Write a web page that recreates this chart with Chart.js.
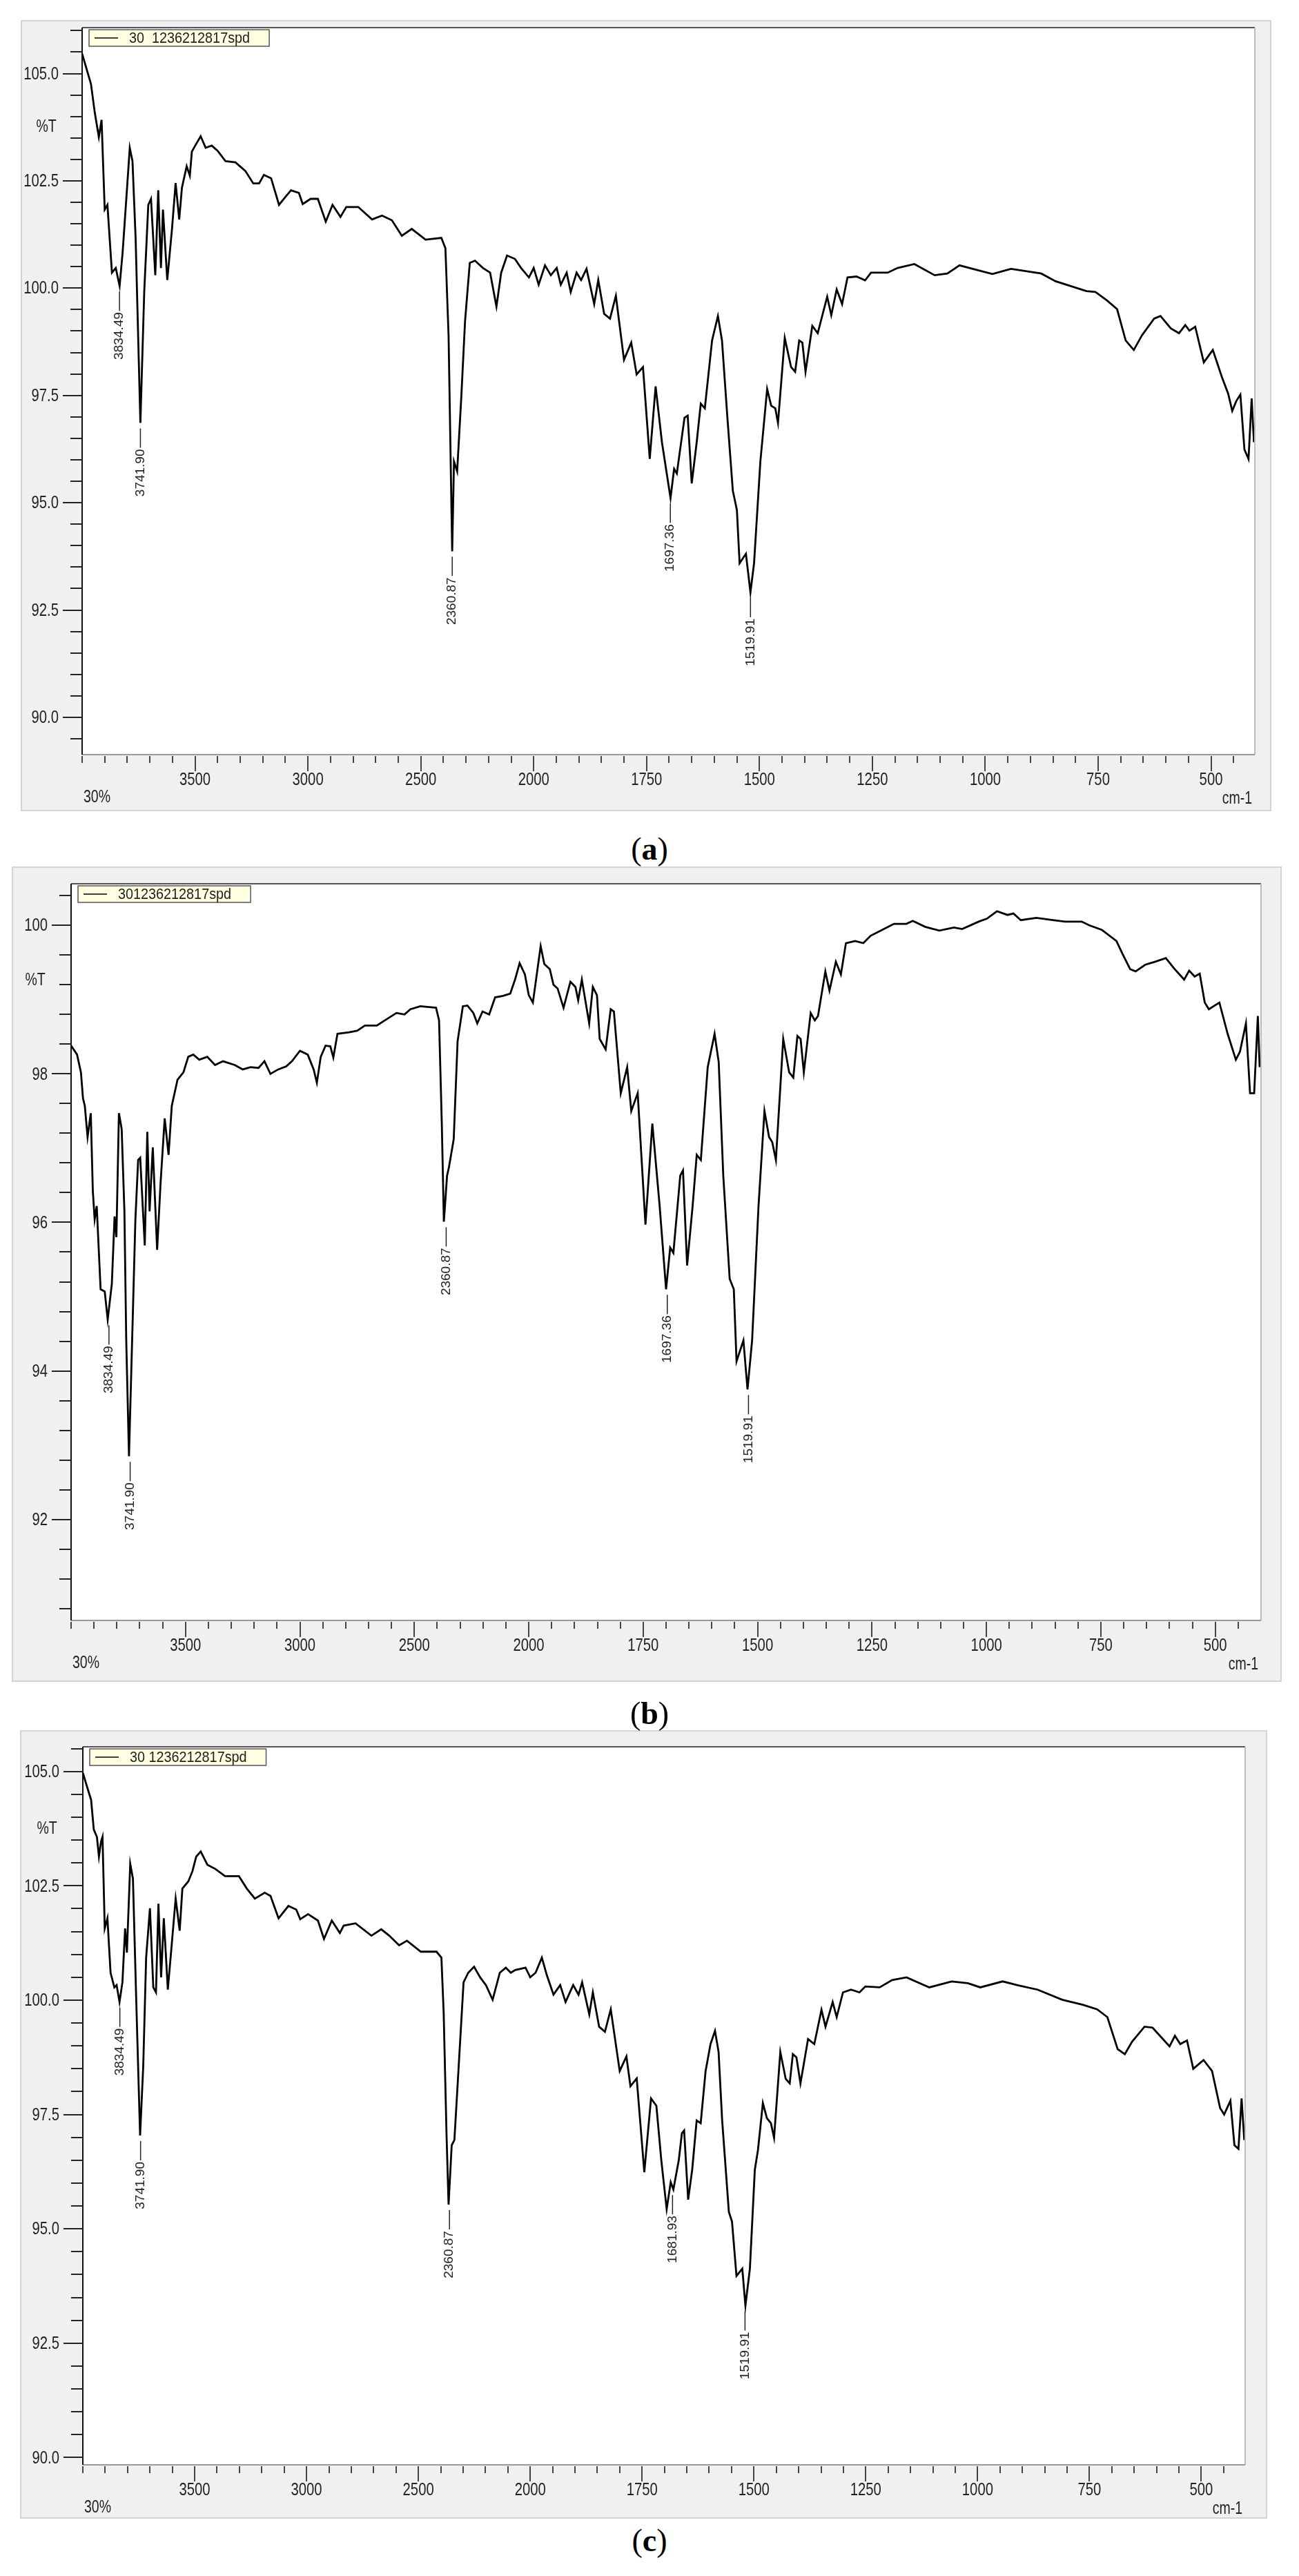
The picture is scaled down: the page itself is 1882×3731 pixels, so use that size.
<!DOCTYPE html>
<html><head><meta charset="utf-8">
<script src="https://cdn.jsdelivr.net/npm/chart.js@4.4.1/dist/chart.umd.min.js"></script>
<style>
html,body{margin:0;padding:0;background:#fff;width:1882px;height:3731px;overflow:hidden;position:relative}
canvas{position:absolute}
.cap{position:absolute;width:1882px;text-align:center;font-family:"Liberation Serif","DejaVu Serif",serif;font-size:46px;color:#000;line-height:1}
.cap b{font-weight:bold}
</style></head><body>
<canvas id="ca"></canvas><canvas id="cb"></canvas><canvas id="cc"></canvas>
<div class="cap" style="top:1207px">(<b>a</b>)</div>
<div class="cap" style="top:2459px">(<b>b</b>)</div>
<div class="cap" style="top:3657px">(<b>c</b>)</div>
<script>
// ---------------- data ----------------
const aWn=[4000,3961,3944,3926,3914,3900,3888,3868,3851,3834,3821,3812,3789,3777,3763,3742,3725,3707,3695,3676,3663,3651,3642,3623,3602,3586,3570,3558,3537,3523,3514,3496,3475,3453,3426,3400,3365,3321,3277,3242,3216,3195,3163,3128,3102,3075,3040,3023,2988,2956,2921,2891,2856,2830,2777,2716,2672,2628,2584,2540,2479,2409,2391,2377,2361,2353,2339,2321,2304,2283,2260,2225,2193,2165,2144,2118,2083,2056,2021,2000,1989,1975,1962,1949,1940,1927,1918,1905,1895,1883,1866,1857,1844,1831,1818,1800,1784,1772,1758,1743,1730,1716,1697,1689,1683,1666,1659,1650,1639,1630,1621,1605,1592,1583,1571,1559,1550,1544,1530,1520,1512,1498,1483,1474,1465,1459,1444,1430,1421,1412,1405,1398,1383,1371,1350,1341,1329,1317,1305,1285,1266,1253,1216,1194,1157,1112,1084,1057,1025,984,943,876,844,776,756,730,708,689,671,653,626,612,589,571,557,548,535,516,496,476,462,453,444,435,426,417,410,405];
const aT=[105.46,104.76,104.09,103.52,103.92,101.83,101.94,100.36,100.47,100.05,100.81,101.49,103.27,102.96,101.15,96.86,99.91,101.94,102.08,100.30,102.28,100.47,101.83,100.19,101.38,102.45,101.60,102.34,102.84,102.62,103.18,103.35,103.54,103.27,103.32,103.20,102.96,102.93,102.73,102.44,102.44,102.64,102.56,101.94,102.11,102.28,102.22,101.96,102.08,102.08,101.55,101.94,101.66,101.89,101.89,101.60,101.69,101.58,101.22,101.38,101.13,101.17,100.93,98.89,93.87,95.96,95.73,97.43,99.23,100.59,100.64,100.47,100.36,99.57,100.36,100.76,100.68,100.47,100.25,100.47,100.08,100.53,100.30,100.47,100.08,100.36,99.91,100.36,100.19,100.45,99.63,100.19,99.40,99.29,99.82,98.33,98.73,97.99,98.16,96.02,97.71,96.41,95.11,95.79,95.68,96.98,97.03,95.45,96.41,97.31,97.20,98.78,99.35,98.78,96.98,95.28,94.83,93.59,93.81,92.91,93.59,95.96,97.65,97.26,97.20,96.86,98.84,98.16,98.05,98.78,98.73,98.05,99.12,98.95,99.80,99.37,99.97,99.63,100.25,100.27,100.18,100.36,100.36,100.47,100.56,100.30,100.34,100.53,100.44,100.33,100.45,100.34,100.16,99.93,99.91,99.71,99.51,98.78,98.56,98.90,99.29,99.35,99.06,98.95,99.14,99.01,99.10,98.27,98.56,97.93,97.54,97.14,97.37,97.52,96.24,96.02,97.43,96.41];
const bWn=[4000,3974,3957,3948,3940,3928,3914,3905,3897,3888,3871,3853,3840,3822,3810,3802,3791,3779,3767,3759,3747,3729,3719,3707,3698,3678,3667,3657,3643,3624,3609,3591,3574,3560,3535,3509,3488,3466,3440,3405,3371,3336,3285,3250,3216,3181,3155,3129,3095,3060,3035,3000,2966,2940,2926,2909,2888,2867,2854,2836,2785,2750,2716,2664,2629,2578,2543,2517,2474,2405,2392,2380,2371,2357,2349,2328,2311,2288,2268,2242,2225,2202,2173,2147,2112,2081,2060,2040,2017,2000,1991,1974,1966,1954,1946,1937,1924,1909,1898,1892,1884,1868,1860,1851,1845,1832,1821,1814,1799,1785,1776,1762,1745,1730,1714,1700,1691,1684,1669,1663,1654,1642,1633,1624,1609,1594,1585,1575,1561,1552,1546,1531,1522,1512,1498,1485,1475,1468,1460,1444,1431,1422,1413,1406,1399,1384,1375,1368,1352,1343,1329,1318,1307,1287,1269,1253,1224,1202,1175,1161,1134,1103,1071,1053,1017,999,977,954,941,925,891,855,828,792,775,748,716,703,686,674,653,631,608,590,568,557,545,534,523,514,491,473,455,446,433,424,415,407,403];
const bT=[98.38,98.26,98.02,97.67,97.57,97.15,97.47,96.42,96.04,96.22,95.10,95.07,94.69,95.17,96.08,95.80,97.47,97.26,96.15,94.41,92.85,94.90,96.04,96.84,96.87,95.69,97.22,96.15,97.01,95.63,96.53,97.40,96.91,97.57,97.92,98.02,98.23,98.26,98.19,98.23,98.12,98.17,98.12,98.06,98.09,98.08,98.17,98.00,98.06,98.10,98.17,98.31,98.26,98.06,97.88,98.23,98.38,98.37,98.22,98.54,98.56,98.58,98.65,98.65,98.72,98.82,98.80,98.87,98.91,98.89,98.72,97.33,96.01,96.63,96.74,97.12,98.44,98.91,98.92,98.82,98.68,98.84,98.80,99.03,99.05,99.08,99.27,99.49,99.34,99.06,98.96,99.72,99.48,99.41,99.20,99.15,98.89,99.24,99.17,98.99,99.27,98.68,99.17,99.06,98.47,98.33,98.87,98.84,97.74,98.09,97.50,97.74,95.97,97.33,96.22,95.10,95.66,95.59,96.63,96.70,95.42,96.22,96.91,96.84,98.09,98.54,98.16,96.63,95.24,95.10,94.13,94.41,93.75,94.41,96.22,97.50,97.15,97.08,96.84,98.47,98.02,97.95,98.51,98.47,98.02,98.82,98.72,98.78,99.38,99.12,99.51,99.34,99.76,99.79,99.76,99.86,99.95,100.02,100.02,100.06,99.98,99.93,99.97,99.95,100.05,100.09,100.19,100.14,100.16,100.07,100.10,100.07,100.05,100.05,100.00,99.94,99.79,99.62,99.41,99.38,99.47,99.51,99.56,99.42,99.27,99.39,99.31,99.35,98.96,98.87,98.96,98.54,98.19,98.30,98.68,97.74,97.74,98.78,98.09];
const cWn=[4000,3977,3963,3951,3937,3928,3919,3912,3902,3890,3876,3859,3849,3836,3823,3811,3803,3788,3776,3761,3744,3730,3717,3700,3685,3673,3662,3650,3638,3620,3602,3585,3567,3555,3528,3510,3493,3473,3443,3408,3364,3302,3267,3231,3187,3161,3125,3081,3046,3028,2993,2949,2922,2887,2851,2834,2781,2710,2666,2630,2586,2551,2489,2419,2397,2387,2374,2365,2351,2339,2321,2298,2277,2251,2224,2198,2168,2136,2109,2087,2067,2021,2000,1988,1974,1963,1948,1933,1921,1904,1892,1884,1868,1860,1846,1833,1820,1800,1785,1776,1762,1745,1730,1718,1707,1695,1686,1680,1668,1661,1656,1647,1638,1628,1619,1608,1597,1587,1579,1571,1556,1549,1539,1526,1519,1509,1498,1491,1480,1471,1462,1455,1441,1429,1420,1413,1405,1396,1379,1365,1349,1340,1324,1315,1301,1283,1264,1251,1219,1191,1159,1108,1058,1022,994,944,912,866,811,765,733,710,687,671,655,627,609,586,571,559,547,532,518,495,476,458,449,435,426,417,410,404];
const cT=[104.97,104.60,104.38,103.73,103.57,103.14,103.46,103.57,101.57,101.79,100.60,100.28,100.33,99.96,100.39,101.57,101.04,102.98,102.66,99.96,97.04,98.55,100.93,102.01,100.28,100.17,102.11,100.50,101.79,100.23,101.25,102.22,101.52,102.44,102.60,102.82,103.14,103.25,102.96,102.87,102.71,102.71,102.44,102.22,102.35,102.28,101.79,102.06,101.98,101.77,101.88,101.74,101.34,101.74,101.47,101.63,101.68,101.41,101.55,101.41,101.20,101.30,101.06,101.06,100.93,99.74,97.04,95.53,96.83,96.94,98.45,100.39,100.60,100.73,100.50,100.33,100.01,100.60,100.71,100.60,100.66,100.71,100.50,100.60,100.93,100.55,100.12,100.33,99.96,100.33,100.12,100.39,99.69,100.17,99.42,99.31,99.80,98.45,98.77,98.12,98.29,96.24,97.85,97.69,96.50,95.43,96.02,95.86,96.50,97.09,97.15,95.64,96.29,97.37,97.31,98.45,99.04,99.33,98.87,97.37,95.37,95.16,93.97,94.13,93.32,94.13,96.29,96.72,97.75,97.42,97.31,96.99,98.87,98.28,98.18,98.82,98.75,98.18,99.15,99.04,99.79,99.42,99.96,99.63,100.17,100.23,100.17,100.30,100.28,100.44,100.50,100.28,100.41,100.37,100.28,100.41,100.33,100.23,100.01,99.90,99.80,99.63,98.93,98.82,99.09,99.42,99.40,99.15,98.99,99.22,99.04,99.12,98.50,98.69,98.45,97.64,97.50,97.80,96.83,96.75,97.85,96.94];
const aPeakWn=[3834.49,3741.90,2360.87,1697.36,1519.91];
const aPeakT=[100.05,96.86,93.87,95.11,92.91];
const bPeakWn=[3834.49,3741.90,2360.87,1697.36,1519.91];
const bPeakT=[94.69,92.85,96.01,95.10,93.75];
const cPeakWn=[3834.49,3741.90,2360.87,1681.93,1519.91];
const cPeakT=[99.96,97.04,95.53,95.86,93.32];
const xTickLabels=[3500,3000,2500,2000,1750,1500,1250,1000,750,500];
const abcYTicks=[90,92.5,95,97.5,100,102.5,105];
const bYTicks=[92,94,96,98,100];
const legendNames=["30  1236212817spd","301236212817spd","30 1236212817spd"];

// ---------------- helpers ----------------
const u=w=>w>2000?2000+(w-2000)/2:w;     // split-scale axis (compressed above 2000)
const inv=v=>v>2000?2000+(v-2000)*2:v;
const SANS='"Liberation Sans",Arial,sans-serif';
const SQ=0.78; // horizontal condensing of axis text
function narrowText(c,txt,x,y,align){
  c.save();c.translate(x,y);c.scale(SQ,1);c.textAlign=align;c.fillText(txt,0,0);c.restore();
}

function makePanel(id,box,plot,wn,T,yMin,yMax,yTicks,yMinor,yDec,pWn,pT,legend,tY){
  const cv=document.getElementById(id);
  const W=box.r-box.l,H=box.b-box.t;
  cv.style.left=box.l+'px';cv.style.top=box.t+'px';
  cv.width=W;cv.height=H;cv.style.width=W+'px';cv.style.height=H+'px';
  const plug={id:'ftir',
    beforeDraw(ch){const c=ch.ctx,a=ch.chartArea;c.save();c.fillStyle='#f0f0f0';c.fillRect(0,0,W,H);
      c.strokeStyle='#d4d4d4';c.lineWidth=2;c.strokeRect(1,1,W-2,H-2);
      c.fillStyle='#fff';c.fillRect(a.left,a.top,a.right-a.left,a.bottom-a.top);c.restore();},
    afterDraw(ch){const c=ch.ctx,a=ch.chartArea,xs=ch.scales.x,ys=ch.scales.y;c.save();
      c.lineWidth=2;c.strokeStyle='#555';c.beginPath();c.moveTo(a.left,a.top);c.lineTo(a.right,a.top);c.stroke();
      c.strokeStyle='#bbb';c.beginPath();c.moveTo(a.right,a.top);c.lineTo(a.right,a.bottom);c.stroke();
      c.strokeStyle='#999';c.beginPath();c.moveTo(a.left,a.bottom);c.lineTo(a.right,a.bottom);c.stroke();
      c.strokeStyle='#111';c.beginPath();c.moveTo(a.left,a.top);c.lineTo(a.left,a.bottom);c.stroke();
      // y ticks + labels
      c.strokeStyle='#222';c.lineWidth=2;c.fillStyle='#222';c.font='26px '+SANS;c.textBaseline='middle';
      for(let v=Math.ceil(yMin/yMinor-1e-6)*yMinor;v<=yMax+1e-6;v+=yMinor){
        const y=Math.round(ys.getPixelForValue(v));
        const major=yTicks.some(t=>Math.abs(t-v)<1e-6);
        c.beginPath();c.moveTo(a.left,y);c.lineTo(a.left-(major?28:17),y);c.stroke();}
      ys.ticks.forEach(t=>{narrowText(c,t.value.toFixed(yDec),a.left-34,ys.getPixelForValue(t.value)+1,'right');});
      // x ticks + labels
      c.strokeStyle='#444';
      for(let v=450;v<=3000;v+=50){if(v<xs.min)continue;
        const x=Math.round(xs.getPixelForValue(v));
        const major=xTickLabels.some(t=>Math.abs(u(t)-v)<1e-6);
        c.beginPath();c.moveTo(x,a.bottom+2);c.lineTo(x,a.bottom+(major?24:12));c.stroke();}
      xTickLabels.forEach(t=>{narrowText(c,String(t),xs.getPixelForValue(u(t)),a.bottom+37,'center');});
      // other texts
      c.font='25px '+SANS;
      narrowText(c,'%T',a.left-52,a.top+tY,'center');
      narrowText(c,'30%',a.left+2,a.bottom+62,'left');
      narrowText(c,'cm-1',a.right-4,a.bottom+64,'right');
      // legend
      c.font='22px '+SANS;const tw=c.measureText(legend).width*0.9;
      const lx=a.left+10,ly=a.top+3,lw=tw+86,lh=24;
      c.fillStyle='#ffffe1';c.fillRect(lx,ly,lw,lh);c.strokeStyle='#555';c.lineWidth=1.5;c.strokeRect(lx,ly,lw,lh);
      c.strokeStyle='#000';c.lineWidth=1.5;c.beginPath();c.moveTo(lx+8,ly+lh/2);c.lineTo(lx+42,ly+lh/2);c.stroke();
      c.fillStyle='#222';c.save();c.translate(lx+58,ly+lh/2+1);c.scale(0.9,1);c.textAlign='left';c.fillText(legend,0,0);c.restore();
      // peak labels
      c.font='19px '+SANS;c.fillStyle='#222';c.strokeStyle='#222';c.lineWidth=1.5;
      pWn.forEach((w,i)=>{const x=xs.getPixelForValue(u(w)),y=ys.getPixelForValue(pT[i]);
        c.beginPath();c.moveTo(x,y+8);c.lineTo(x,y+36);c.stroke();
        c.save();c.translate(x,y+38);c.rotate(-Math.PI/2);c.textAlign='right';c.textBaseline='middle';
        c.fillText(w.toFixed(2),0,0);c.restore();});
      c.restore();}
  };
  return new Chart(cv,{type:'line',
    data:{datasets:[{data:wn.map((w,i)=>({x:u(w),y:T[i]})),borderColor:'#000',borderWidth:2.8,pointRadius:0,tension:0,fill:false}]},
    options:{responsive:false,animation:false,devicePixelRatio:1,events:[],
      layout:{padding:{top:plot.t-box.t,right:box.r-plot.r,left:0,bottom:0}},
      plugins:{legend:{display:false},tooltip:{enabled:false}},
      scales:{
        x:{type:'linear',reverse:true,min:plot.xmin,max:3000,
          afterBuildTicks:s=>{s.ticks=xTickLabels.map(t=>({value:u(t)}));},
          afterFit:s=>{s.height=box.b-plot.b;},
          grid:{display:false},border:{display:false},
          ticks:{display:false}},
        y:{min:yMin,max:yMax,
          afterBuildTicks:s=>{s.ticks=yTicks.map(t=>({value:t}));},
          afterFit:s=>{s.width=plot.l-box.l;},
          grid:{display:false},border:{display:false},
          ticks:{display:false}}
      }},
    plugins:[plug]});
}

makePanel('ca',{l:30,t:29,r:1842,b:1175},{l:119,t:40,r:1818,b:1093,xmin:403},aWn,aT,89.13,106.07,abcYTicks,0.5,1,aPeakWn,aPeakT,legendNames[0],144);
makePanel('cb',{l:17,t:1255,r:1857,b:2436},{l:103,t:1280,r:1827,b:2347,xmin:400},bWn,bT,90.64,100.56,bYTicks,0.4,0,bPeakWn,bPeakT,legendNames[1],140);
makePanel('cc',{l:29,t:2506,r:1836,b:3648},{l:120,t:2530,r:1804,b:3570,xmin:402},cWn,cT,89.84,105.54,abcYTicks,0.5,1,cPeakWn,cPeakT,legendNames[2],119);
</script></body></html>
